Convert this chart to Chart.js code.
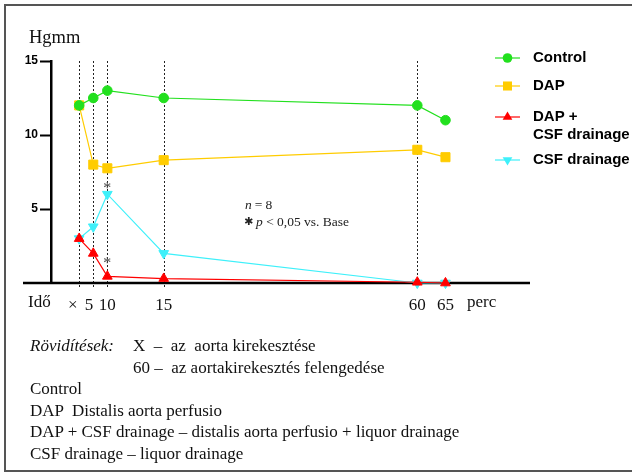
<!DOCTYPE html>
<html>
<head>
<meta charset="utf-8">
<script src="https://cdn.jsdelivr.net/npm/chart.js@4.4.0/dist/chart.umd.min.js"></script>
<style>
  body { margin: 0; background: #fff; }
  #wrap { position: relative; width: 632px; height: 473px; overflow: hidden; }
  #frame { position: absolute; left: 4px; top: 4px; width: 640px; height: 468px; border: 2px solid #555; box-sizing: border-box; }
  canvas { position: absolute; left: 0; top: 0; }
  #notes { position: absolute; left: 30px; top: 335px; font: 17px "Liberation Serif", "Times New Roman", serif; line-height: 21.6px; color: #111; white-space: pre; }
  .lbl { display: inline-block; width: 103px; font-style: italic; }
</style>
</head>
<body>
<div id="wrap">
  <canvas id="chart" width="632" height="473"></canvas>
  <div id="frame"></div>
  <div id="notes"><div><span class="lbl">Rövidítések:</span>X  –  az  aorta kirekesztése</div><div><span class="lbl"></span>60 –  az aortakirekesztés felengedése</div><div>Control</div><div>DAP  Distalis aorta perfusio</div><div>DAP + CSF drainage – distalis aorta perfusio + liquor drainage</div><div>CSF drainage – liquor drainage</div></div>
</div>
<script>
// time points as placed on the drawn axis, and the labels printed under them
const timePoints = [0, 2.5, 5, 15, 60, 65];
const timeLabels = ['×', '5', '10', '15', '60', '65'];

// pressure, Hgmm
const controlData = [12, 12.5, 13, 12.5, 12, 11];
const dapData = [12, 8, 7.75, 8.3, 9, 8.5];
const dapCsfData = [3, 2, 0.45, 0.3, 0.05, 0];
const csfData = [3, 3.8, 6, 2, 0, 0];

const yTicks = [5, 10, 15];
const seriesNames = ['Control', 'DAP', ['DAP +', 'CSF drainage'], 'CSF drainage'];

// significant points: [dataset, index]
const significant = [[3, 2], [2, 2]];

const serif = '"Liberation Serif", "Times New Roman", serif';
const sans = '"Liberation Sans", Arial, sans-serif';

// trailing spaces nudge the crowded first labels to the left
const labelNudge = ['   ', '  ', '', '', '', ''];

function series(label, data, color, style, radius, rotation) {
    return {
        label: label,
        data: data.map((v, i) => ({ x: timePoints[i], y: v })),
        borderColor: color,
        backgroundColor: color,
        borderWidth: 1.2,
        pointStyle: style,
        pointRadius: radius,
        pointRotation: rotation || 0,
        pointBorderWidth: 1,
        tension: 0,
        clip: false
    };
}

function marker(ctx, ds, x, y) {
    const r = ds.pointRadius;
    ctx.save();
    ctx.fillStyle = ds.backgroundColor;
    ctx.translate(x, y);
    ctx.rotate((ds.pointRotation || 0) * Math.PI / 180);
    ctx.beginPath();
    if (ds.pointStyle === 'circle') {
        ctx.arc(0, 0, r, 0, Math.PI * 2);
    } else if (ds.pointStyle === 'rect') {
        const s = r * Math.SQRT1_2;
        ctx.rect(-s, -s, 2 * s, 2 * s);
    } else {
        ctx.moveTo(0, -r);
        ctx.lineTo(r * 0.866, r * 0.5);
        ctx.lineTo(-r * 0.866, r * 0.5);
        ctx.closePath();
    }
    ctx.fill();
    ctx.restore();
}

const decor = {
    id: 'decor',
    beforeDatasetsDraw(chart) {
        const ctx = chart.ctx, xs = chart.scales.x, ys = chart.scales.y;
        ctx.save();
        // dotted guide lines
        ctx.strokeStyle = '#222';
        ctx.lineWidth = 1;
        ctx.setLineDash([2, 2]);
        timePoints.slice(0, 5).forEach(t => {
            const px = Math.round(xs.getPixelForValue(t)) + 0.5;
            ctx.beginPath();
            ctx.moveTo(px, ys.top);
            ctx.lineTo(px, ys.bottom + 6);
            ctx.stroke();
        });
        // baseline, running past the y axis
        ctx.setLineDash([]);
        ctx.strokeStyle = '#000';
        ctx.lineWidth = 2.5;
        ctx.beginPath();
        ctx.moveTo(23, ys.bottom);
        ctx.lineTo(xs.right, ys.bottom);
        ctx.stroke();
        ctx.restore();
    },
    afterDraw(chart) {
        const ctx = chart.ctx;
        ctx.save();
        ctx.fillStyle = '#111';
        ctx.textBaseline = 'middle';
        ctx.textAlign = 'left';
        ctx.font = '18.5px ' + serif;
        ctx.fillText('Hgmm', 29, 38);
        ctx.font = '17px ' + serif;
        ctx.fillText('Idő', 28, 303);
        ctx.fillText('perc', 467, 303);

        // asterisks
        const offs = [-1, -8];
        ctx.font = '16px ' + serif;
        ctx.fillStyle = '#444';
        ctx.textAlign = 'center';
        ctx.textBaseline = 'alphabetic';
        significant.forEach(([d, i], k) => {
            const pt = chart.getDatasetMeta(d).data[i];
            ctx.fillText('*', pt.x, pt.y + offs[k]);
        });

        // note
        ctx.fillStyle = '#222';
        ctx.textAlign = 'left';
        ctx.textBaseline = 'middle';
        ctx.font = 'italic 13.5px ' + serif;
        ctx.fillText('n', 245, 205);
        ctx.font = '13.5px ' + serif;
        ctx.fillText(' = 8', 245 + ctx.measureText('n').width - 0.5, 205);
        ctx.font = 'bold 11px "DejaVu Sans", sans-serif';
        ctx.fillText('✱', 244, 222);
        ctx.font = 'italic 13.5px ' + serif;
        ctx.fillText('p', 256, 222);
        const pw = ctx.measureText('p').width;
        ctx.font = '13.5px ' + serif;
        ctx.fillText(' < 0,05 vs. Base', 256 + pw, 222);

        // legend
        const rows = [58, 86, 117, 160];
        chart.data.datasets.forEach((ds, i) => {
            const y = rows[i];
            ctx.strokeStyle = ds.borderColor;
            ctx.lineWidth = 1.2;
            ctx.beginPath();
            ctx.moveTo(495, y);
            ctx.lineTo(520, y);
            ctx.stroke();
            marker(ctx, ds, 507.5, y);
            ctx.fillStyle = '#000';
            ctx.font = 'bold 15px ' + sans;
            const lines = Array.isArray(ds.label) ? ds.label : [ds.label];
            lines.forEach((t, j) => ctx.fillText(t, 533, y + j * 17.5));
        });
        ctx.restore();
    }
};

new Chart(document.getElementById('chart'), {
    type: 'line',
    data: {
        datasets: [
            series(seriesNames[0], controlData, '#22e01e', 'circle', 4.8),
            series(seriesNames[1], dapData, '#ffcc00', 'rect', 6.4),
            series(seriesNames[2], dapCsfData, '#ff0000', 'triangle', 5.6),
            series(seriesNames[3], csfData, '#3ef0fa', 'triangle', 5.6, 180)
        ]
    },
    options: {
        responsive: false,
        devicePixelRatio: 1,
        animation: false,
        events: [],
        layout: { padding: { left: 0, right: 102, top: 61, bottom: 150 } },
        plugins: { legend: { display: false }, tooltip: { enabled: false } },
        scales: {
            x: {
                type: 'linear',
                min: -5,
                max: 80,
                afterFit(s) { s.height = 40; },
                afterBuildTicks(s) { s.ticks = timePoints.map(v => ({ value: v })); },
                grid: { display: true, drawOnChartArea: false, drawTicks: false, color: 'rgba(0,0,0,0)' },
                border: { display: false },
                ticks: {
                    autoSkip: false,
                    maxRotation: 0,
                    padding: 12,
                    color: '#111',
                    font: { family: serif, size: 17 },
                    callback: (v) => {
                        const i = timePoints.indexOf(v);
                        return timeLabels[i] + labelNudge[i];
                    }
                }
            },
            y: {
                min: 0,
                max: 15,
                afterFit(s) { s.width = 51; },
                afterBuildTicks(s) { s.ticks = yTicks.map(v => ({ value: v })); },
                grid: { drawOnChartArea: false, tickLength: 11, tickWidth: 2, tickColor: '#000' },
                border: { display: true, color: '#000', width: 2.5 },
                ticks: {
                    padding: 2,
                    color: '#000',
                    font: { family: sans, size: 12, weight: 'bold' }
                }
            }
        }
    },
    plugins: [decor]
});
</script>
</body>
</html>
